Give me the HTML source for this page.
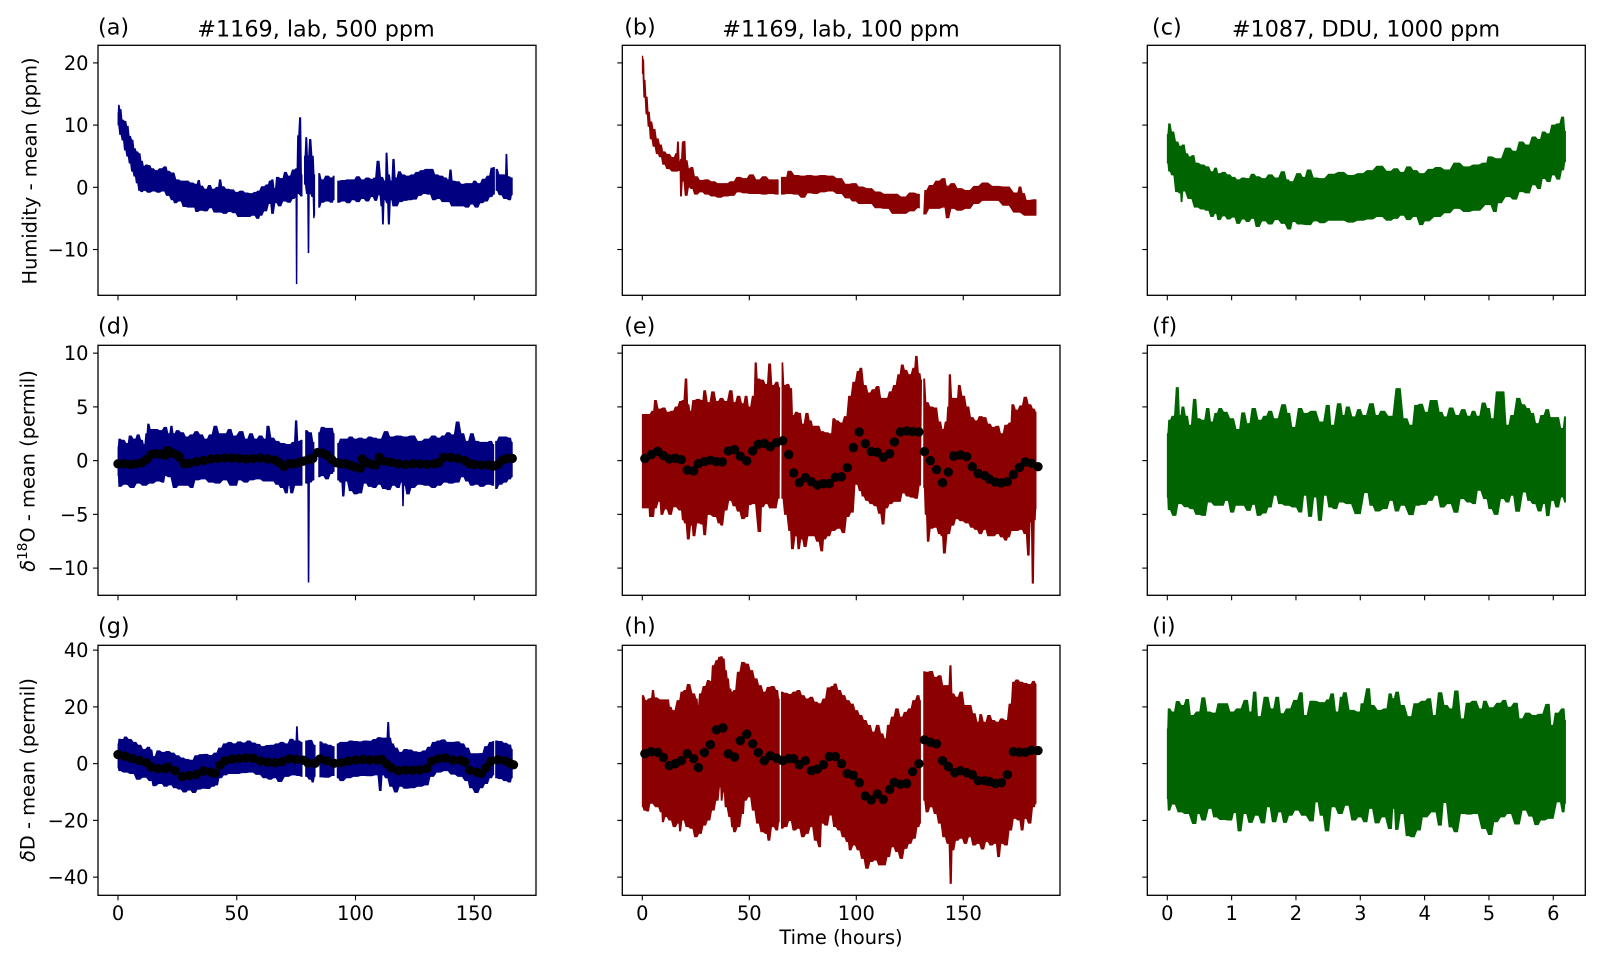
<!DOCTYPE html>
<html>
<head>
<meta charset="utf-8">
<title>Humidity and isotope residual time series</title>
<style>
html,body{margin:0;padding:0;background:#fff;}
svg{display:block;}
text{font-family:"DejaVu Sans","Liberation Sans",sans-serif;fill:#000;}
.lg{font-size:22.3px;}
.md{font-size:19.4px;}
</style>
</head>
<body>
<svg id="fig" xmlns="http://www.w3.org/2000/svg" width="1603" height="963" viewBox="0 0 1603 963">
  <rect x="0" y="0" width="1603" height="963" fill="#ffffff"/>
  <g id="plots"></g>

  <text class="lg" x="98" y="34.6">(a)</text>
  <text class="lg" x="624.2" y="34.6">(b)</text>
  <text class="lg" x="1152" y="34.6">(c)</text>
  <text class="lg" x="98" y="333.6">(d)</text>
  <text class="lg" x="624.2" y="333.6">(e)</text>
  <text class="lg" x="1152" y="333.6">(f)</text>
  <text class="lg" x="98" y="633.6">(g)</text>
  <text class="lg" x="624.2" y="633.6">(h)</text>
  <text class="lg" x="1152" y="633.6">(i)</text>

  <text class="lg" x="316" y="36.7" text-anchor="middle">#1169, lab, 500 ppm</text>
  <text class="lg" x="841" y="36.7" text-anchor="middle">#1169, lab, 100 ppm</text>
  <text class="lg" x="1366" y="36.7" text-anchor="middle">#1087, DDU, 1000 ppm</text>

  <text class="md" transform="translate(36.5,171) rotate(-90)" text-anchor="middle">Humidity - mean (ppm)</text>
  <text class="md" transform="translate(34.5,471) rotate(-90)" text-anchor="middle"><tspan font-style="italic">δ</tspan><tspan font-size="13.6" dy="-7.5">18</tspan><tspan dy="7.5">O - mean (permil)</tspan></text>
  <text class="md" transform="translate(34.5,770) rotate(-90)" text-anchor="middle"><tspan font-style="italic">δ</tspan>D - mean (permil)</text>
  <text class="md" x="841" y="944" text-anchor="middle">Time (hours)</text>
</svg>
<script>
/* ---------- tick labels ---------- */
const xTicksLab500 = [0, 50, 100, 150];
const xTicksLab100 = [0, 50, 100, 150];
const xTicksDDU = [0, 1, 2, 3, 4, 5, 6];
const yTicksHumidity = [20, 10, 0, -10];
const yTicksD18O = [10, 5, 0, -5, -10];
const yTicksDD = [40, 20, 0, -20, -40];

/* ---------- panel (a) humidity, 500 ppm ---------- */
const aUpperTime = [0,.3,1,2,3,4,5,6,7,8,
 9,10,11,12,13,14.5,16,18,20,21,
 23,25,27,29,31,33,34,35,37,38.5,
 40,42,43,44,46,48,50,52,54,56,
 58,59,61,63,64,65,66,67,69,70.5,
 72,74,75.2,75.8,76.7,77.5,null,78.5,79.3,80,
 80.9,82,82.8,null,84.5,86,88,90,91,null,
 92.5,95,97,99,101,103,105,107,108,109.5,
 111,112.5,113,114,115,116,117,118.5,120,122,
 124,126,128,130,132,134,136,138,139,140,
 141,143,145,147,149,150,152,154,156,157.5,
 158.5,null,159.2,161,163,163.5,164.3,166];
const aUpper = [12,13.2,12.5,10.8,10.6,9.8,8.2,7.6,6.2,5.7,
 5.4,4.2,3.4,3.6,3.5,3,2.7,3,3.3,2.6,
 2.3,1.2,1,1,.7,.5,1.1,.2,-.3,.3,
 -.3,0,1.2,.1,-.3,-.4,-.8,-.6,-.9,-1,
 -.8,-.6,.1,.4,1,1.2,-.2,1.6,1.4,2.4,
 1.8,2.8,3,8.3,11.2,2,null,5,8,5,
 7.7,5,2,null,2.2,1.2,1.8,1.5,1.8,null,
 1,1.1,1.2,1.2,1.7,1.2,1.5,1.3,1.5,4.2,
 1.6,1,5.5,2,1,4.5,1.5,2.5,2,1.8,
 2,2.4,2.7,2.9,2.9,2,1.8,1.5,1.2,2.8,
 1,.9,.5,.6,.6,1,.6,1.3,1.8,3.1,
 3.2,null,2.9,2,2,5.3,1.7,1.5];
const aLowerTime = [0,1,2,3,4,5,6,7,8,9,
 10,11,13,15,17,19,21,23,24,26,
 28,30,32,33,35,37,39,41,43,45,
 47,49,51,53,55,57,59,60,62,64,
 65,66.5,68,70,72,74,74.8,75.2,75.6,77.5,
 null,78.5,79.7,80.2,80.7,82,82.5,82.8,null,84.5,
 86,88,90,91,null,92.5,95,97,99,101,
 103,105,107,108.5,110,111,111.5,112.3,113.3,114,
 115,116,117,119,121,123,125,127,129,131,
 133,135,137,139,141,143,145,147,149,151,
 153,155,157,158.5,null,159.2,161,163,165,166];
const aLower = [10,8.5,7.6,6,5,3.9,2.6,1.8,.7,-.5,
 -.7,-.5,-.8,-.6,-.8,-.6,-1.3,-2,-2.5,-2.2,
 -3.1,-3.2,-3.2,-3.9,-3.7,-3.8,-3.3,-4,-4,-4.2,
 -3.9,-4.1,-4.7,-4.7,-4.7,-4.5,-5,-4.5,-3.8,-2.6,
 -4.2,-2.5,-3,-2.2,-2.4,-1.8,-1.6,-15.5,-1,-1.4,
 null,.5,-1,-10.5,-1,-1.5,-4.9,-4.5,null,-3.2,
 -2.4,-2.2,-2.4,-2,null,-2.4,-2.2,-2.5,-2,-2.3,
 -1.8,-2.2,-1.5,-2.1,-1.2,-3,-5.9,-2,-2.5,-5.9,
 -2,-3,-3,-2.3,-2.1,-2,-1.9,-1.3,-1,-1.1,
 -2,-1.8,-2.3,-2.3,-3,-3,-3,-3.2,-2.7,-3.2,
 -2.5,-2.2,-1.5,-1.1,null,-.5,-1.2,-1.8,-2,-1.2];

/* ---------- panel (b) humidity, 100 ppm ---------- */
const bUpperTime = [0,.5,1,2,3,4,5.5,7,8.5,10,
 12,14.5,16,16.6,17.5,18,19,19.7,20.5,22,
 23,25,27.5,30,33,36,39,42,45,48,
 51,54,57,60,63.5,null,65,67,68.5,72,
 75,78,81,84,88,92,96,99,102,106,
 110,114,118,122,126,129.5,null,132,135,138,
 141,142.5,145,148,152,156,160,165,170,175,
 176.5,178,180,184];
const bUpper = [21.1,20.5,17.2,14.5,12.1,10.5,9.3,7.8,6.8,5.7,
 5.3,4.8,5.4,7.3,4.1,4.5,7.3,7.4,4.3,3,
 3.2,1.7,1.1,1.2,.9,.6,.6,.9,1.6,1.4,
 2,1.2,1.7,1.2,1.2,null,1.6,1.6,2.6,1.9,
 1.8,1.9,1.8,1.9,1.8,1.4,.5,.6,.05,-.2,
 -.75,-1.1,-1.1,-1.55,-.9,-1.1,null,-.5,.3,1,
 1.4,.2,.6,-.2,-.5,.15,.7,.15,.05,-.9,
 .05,-1,-2.1,-2];
const bLowerTime = [0,1,2,3,4,5.5,7,8.5,10,12,
 14.5,16,17.5,18,19,20.5,22,23,25,27.5,
 30,33,36,39,42,45,48,51,54,57,
 60,63.5,null,65,68.5,72,75,78,81,84,
 88,92,96,99,102,106,110,114,118,122,
 126,129.5,null,131.5,135,138,141,142.5,145,148,
 152,156,160,165,170,175,180,184];
const bLower = [18.3,14.5,11.8,9.8,7.8,6.6,5.4,4.9,3.7,3,
 2.6,2.6,2.7,-1.4,1,-1.3,0,-.2,-1.1,-.75,
 -1.1,-1.4,-1.6,-1.4,-1.3,-.75,-.9,-1,-1,-1.1,
 -1,-1.1,null,-1.1,-1,-1.1,-1.6,-.9,-1,-.75,
 -.6,-1,-1.7,-2.2,-2.6,-2.6,-3.3,-3.4,-4.2,-4.2,
 -3.8,-3.3,null,-4.3,-3.4,-3.4,-3.2,-4.9,-3.4,-3.7,
 -3.4,-2.6,-2.1,-2.1,-2.9,-4,-4.5,-4.5];

/* ---------- panel (c) humidity, 1000 ppm ---------- */
const cUpperTime = [0,.03,.08,.15,.2,.25,.3,.35,.4,.45,
 .55,.62,.7,.75,.8,.88,.95,1.03,1.1,1.18,
 1.25,1.33,1.4,1.5,1.6,1.7,1.8,1.87,1.92,2.05,
 2.12,2.2,2.3,2.4,2.55,2.7,2.85,3,3.15,3.3,
 3.45,3.55,3.65,3.75,3.85,3.95,4.1,4.2,4.35,4.5,
 4.65,4.8,4.95,5,5.15,5.3,5.4,5.5,5.6,5.7,
 5.78,5.85,5.92,6,6.08,6.15,6.19];
const cUpper = [8.5,10.2,8.9,7.3,6.6,6.8,5.4,4.9,5.1,3.9,
 3.6,3.3,2.5,3.1,2.2,2.4,2,1.6,1.2,1.5,
 1.4,2.1,1.7,1.4,2,1.5,2.5,1.2,.9,2.2,
 1.6,2.8,1.5,1.4,2.1,2.4,1.9,2.2,2.7,3.4,
 2.6,3,2.4,3.3,2.7,2.2,2.9,3.2,2.8,3.9,
 3.3,3.6,3.9,4.9,4.6,6.3,5.8,7.3,6.8,8.1,
 7.7,8.9,8.6,10,10.2,11.3,9];
const cLowerTime = [0,.03,.08,.15,.2,.22,.25,.35,.45,.55,
 .62,.7,.75,.8,.88,.95,1.03,1.1,1.18,1.25,
 1.33,1.4,1.5,1.6,1.7,1.8,1.9,1.96,2.05,2.2,
 2.3,2.4,2.55,2.7,2.85,3,3.15,3.3,3.45,3.55,
 3.65,3.75,3.85,3.95,4.02,4.2,4.35,4.5,4.65,4.8,
 5,5.1,5.15,5.3,5.4,5.5,5.6,5.7,5.78,5.85,
 5.93,6,6.08,6.15,6.19];
const cLower = [3.9,2.6,2,-.7,-.9,-2.3,-.6,-1.8,-3.2,-3.5,
 -3.7,-4.7,-4.2,-5.2,-4.6,-5.1,-4.8,-5.8,-5.1,-5.5,
 -5,-6.3,-5.4,-5.9,-5.2,-5.8,-6.7,-5.5,-5.9,-6,
 -5.4,-5.7,-5.3,-5.3,-5.6,-5.3,-5.1,-4.7,-5.3,-5,
 -4.5,-5.2,-4.7,-6,-5.4,-4.7,-4.1,-3.4,-3.9,-3.7,
 -2.8,-3.9,-2.5,-1.5,-1.9,-.7,-.9,.4,-.2,1.4,
 .9,2,1.3,2.8,4.1];

/* ---------- panel (d) d18O, 500 ppm ---------- */
const dUpperTime = [0,.5,2,4,5,7,8.5,10,11,12,
 12.7,14,16,18,20,21.5,22.5,23.5,25,27,
 29,31,33,35,37,39,41,43,45,47,
 49,52,54,56,58,60,62,63,65,67,
 69,72,74,75,76,77.5,null,79,81,82.5,
 null,84.5,86,88,90,91,null,92.5,94,96,
 98,100,102,104,106,108,110,113,115,118,
 121,124,127,130,133,135,137,139,141,143,
 145,147,149,151,153,155,157,158.2,null,159,
 161,163,165,166];
const dUpper = [1.3,2,1.9,1.6,2.3,2,2.4,1.9,1.5,2.5,
 3.4,2.9,2.9,2.8,3.1,2.5,3.2,2.5,2.8,2.6,
 2.2,2.4,2.7,2.4,2,2.4,3.2,2.5,2.5,2.9,
 2.3,2.7,2,2.5,2,2.3,2,3.2,2.1,1.8,
 1.6,1.5,1.7,3.7,1.8,1.9,null,2.8,2.6,1.7,
 null,2.6,3.1,3,3,2.5,null,1.6,2,2,
 2.2,2,2.1,2,2.2,2.1,2,2.7,2.2,2.3,
 2.2,2.3,1.8,2,2.3,2.1,2.3,2.6,2.4,3.6,
 2.5,1.8,2.5,1.8,1.7,1.7,1.8,1.5,null,1.8,
 2.2,2.2,2.1,1.7];
const dLowerTime = [0,.5,3,6,8.5,11,14,17,19,20,
 21.5,24,26,29,31,33,36,39,42,45,
 48,49.5,51,54,56,59,62,65,67,69,
 71,72,73,75,77.5,null,79,79.8,80.2,80.8,
 82.5,null,84.5,86,88,90,91,null,92.5,94,
 94.8,96,98,100,102,104,106,108,110,112,
 114,116,118,119.5,120,120.5,122,124,127,130,
 133,135,138,140,143,145,147,149,151,153,
 156,158.2,null,159,161,163,165,166];
const dLower = [-1.4,-2.4,-2.2,-2.5,-2.1,-2.3,-2.1,-1.9,-2,-1.4,
 -1.5,-2.5,-2.3,-2.3,-2.5,-1.8,-1.7,-2,-2.1,-1.8,
 -2.3,-2.3,-1.8,-2,-1.8,-1.7,-1.9,-1.9,-2.2,-2.5,
 -3,-2.3,-3,-2.3,-2.3,null,-2.1,-2.1,-11.3,-2,
 -1.8,null,-1.5,-1.4,-1.7,-1.2,-1,null,-1.8,-2,
 -3.3,-1.9,-2.8,-3.1,-3,-2.1,-2.4,-2.5,-2.2,-2.6,
 -2.7,-2.3,-2.5,-2,-4.2,-2.3,-3.1,-2.5,-2.2,-2.3,
 -2.5,-2.3,-2,-2.1,-2,-1.5,-1.9,-2.3,-2.2,-2.4,
 -2.2,-2.3,null,-2.6,-2.2,-2,-1.7,-1.5];
const dMeanTime = [0,2.5,5,7.5,10,12,14,16,18,20,
 21,23,25,26,28,30,33,36,39,42,
 45,48,51,54,57,60,63,66,68,70,
 72,74,76,78,80,82,84,86,88,90,
 92,94,96,98,100,102,102.8,105,107,108.5,
 110,112,115,118,121,124,127,130,133,135,
 137,140,143,146,148,150,153,156,158,160,
 162,164,166];
const dMean = [-.3,-.3,-.35,-.3,-.2,.1,.55,.65,.6,.5,
 .95,.7,.5,.3,-.3,-.25,-.1,0,.15,.2,
 .25,.25,.2,.15,.2,.25,.15,.05,-.2,-.55,
 -.3,-.3,-.2,-.05,.1,.2,.75,.7,.5,.1,
 -.2,-.3,-.3,-.45,-.6,-.7,.15,-.2,-.35,-.4,
 .3,-.05,-.15,-.3,-.35,-.3,-.3,-.35,-.3,-.2,
 .3,.3,.2,0,-.3,-.35,-.4,-.4,-.5,-.35,
 .05,.2,.2];

/* ---------- panel (e) d18O, 100 ppm ---------- */
const eUpperTime = [0,3,5,6,8,10,12,14,16,18,
 19,20.5,21.5,22.5,24,26,28,29,31,33,
 35,37,39,41.5,43,45,47,48.5,50,52,
 53,54,56,58,59.5,61,63,64.2,null,65.3,
 66.5,68,69.5,70.5,72,73.5,75,77,78.5,80,
 82,84,86,88,89.5,91,93,95,97,99,
 101,102,104,106,108,110,112,114,116,118,
 120,121.5,123,125,127,128,129.5,130.5,null,131.5,
 133,135,137,139,140.5,142,143,143.6,145,147,
 148,150,152,154,156,158,160,162,164,166,
 168,170,172,173,175,177,179,181,183,184];
const eUpper = [4.3,4.3,4.6,5.6,4.8,4.9,4.5,4.6,5,5.5,
 5.6,7.6,5.2,4.6,5.6,5.7,5.6,6.5,5.4,6.4,
 5.5,5.8,5.5,6.5,5.4,6,5.3,6,5,6,
 9.1,7.6,7.5,7.1,9,7,7.3,6.8,null,9.1,
 7,7.1,6.7,4.2,4.5,4.4,3.4,4.4,3.7,3.2,
 3.2,2.7,2.6,2.5,3.9,3.7,3.5,4.1,6,7.3,
 8.3,8.6,7,6.3,6.6,6.9,5.8,5.8,6.4,7,
 8,8.9,8.4,8,8.6,9.7,8.1,7.5,null,7.6,
 5.4,5,4.9,3.6,2.9,3.6,5,8,5.8,5.8,
 7,6,5,4,3.7,4.1,4,3.4,3.1,3.2,
 2.5,3.3,3.5,5.2,4.7,5.1,5.9,5.2,4.8,4.5];
const eLowerTime = [0,3,3.5,5,6,8,9,11,13,15,
 18,19,20,21.5,23,24,26,28,29,31,
 34,36,37,39,41,43,45,47,49,50,
 52,55,56,58,60,62,64,null,65.2,67,
 69,70,72,73,74.5,76,78,80,82,84,
 85,87,89,92,94,96,98,100,102,103,
 105,107,109,111,112.5,114,116,118,120,122,
 124,126,128,130,null,131.5,132.5,133.5,135,137,
 139,140,141,143,145,147,149,152,154,156,
 158,160,162,164,166,168,170,171,173,175,
 177,179,180.5,181.5,182.5,183.5,184];
const eLower = [-4.4,-4.4,-5.2,-5.2,-4.4,-3.8,-5,-4.5,-5,-4.3,
 -4.6,-5.5,-5.8,-7.3,-6,-7,-5.8,-5.9,-6.9,-5,
 -5.2,-5.8,-6,-4.6,-3.7,-4.2,-4.7,-5.4,-5.2,-4.1,
 -4,-6.6,-4.3,-4,-4.4,-4.4,-3.5,null,-3.5,-5,
 -6.5,-8.2,-7,-8.2,-7.3,-8,-7,-7,-7.5,-8.4,
 -7.3,-7,-6.5,-6.3,-6.7,-5.2,-4.8,-2.2,-2.8,-3.3,
 -3.7,-4,-4.2,-4.9,-5.9,-4.4,-4,-3.8,-3.8,-3,
 -3.3,-3.4,-3.5,-2.3,null,-2.5,-5,-7.5,-6.3,-6.2,
 -6.8,-7,-8.6,-6.8,-6,-5.4,-5.6,-5.8,-6.2,-6.4,
 -6.8,-6.4,-7,-7,-6.8,-7.1,-7.4,-7.1,-6.5,-6.5,
 -6.4,-6.8,-8.8,-5.7,-11.4,-5.5,-4.5];
const eMeanTime = [1.2,4.2,7.2,9.8,12.6,15.4,18.2,21,24,26.2,
 29,31.8,34.6,37.4,40.2,43.1,45.8,48.8,51.6,54.2,
 57,59.8,62.8,65.6,68.4,70.7,73.4,76.2,79,81.8,
 84.6,87.4,90.2,93.1,95.8,98.6,101.4,104.2,107,109.8,
 112.6,115.6,117.8,120.6,123.5,126.3,129.3,131.8,134.6,137.5,
 140.3,143,145.5,148.6,151.6,154.2,157,160.1,162.1,165,
 167.8,170.6,173.4,176.2,179,181.9,184.9];
const eMean = [.19,.56,.87,.47,.16,.22,.09,-.87,-.96,-.28,
 -.09,.03,-.09,-.12,.9,1.02,.4,-.03,.9,1.52,
 1.61,1.3,1.68,1.86,.56,-1.15,-2.05,-1.58,-1.96,-2.27,
 -2.14,-2.14,-1.55,-1.49,-.65,1.21,2.67,1.58,.84,.78,
 .31,.65,1.74,2.67,2.76,2.7,2.67,.84,0,-.84,
 -2.05,-1.06,.43,.53,.37,-.56,-1.21,-1.4,-1.71,-1.99,
 -2.08,-1.96,-1.3,-.65,-.12,-.25,-.56];

/* ---------- panel (f) d18O, 1000 ppm ---------- */
const fUpperTime = [0,.03,.09,.16,.2,.24,.3,.35,.43,.48,
 .56,.63,.69,.76,.82,.9,1,1.1,1.18,1.26,
 1.34,1.44,1.52,1.6,1.68,1.82,1.88,1.96,2.07,2.14,
 2.27,2.4,2.5,2.56,2.68,2.74,2.8,2.9,2.98,3.06,
 3.18,3.26,3.34,3.47,3.59,3.7,3.79,3.87,3.94,4.03,
 4.11,4.17,4.25,4.32,4.41,4.51,4.6,4.69,4.76,4.83,
 4.92,4.99,5.05,5.14,5.21,5.29,5.36,5.46,5.53,5.61,
 5.67,5.75,5.83,5.91,5.97,6.06,6.14,6.19];
const fUpper = [2.5,3.76,4.13,6.8,4.2,5,4.13,3.3,5.7,3.9,
 3.76,4.85,3.6,4.4,4.85,4.5,3.9,2.9,4.45,3.45,
 4.85,3.76,4.13,4.6,3.9,5.2,4.4,3.1,4.85,4.4,
 4.6,3.6,5.15,3.3,5.3,4.2,5,4.07,4.75,4.2,
 5.3,4.2,4.6,4.13,6.7,3.9,3.3,5.15,5.25,4.5,
 5.6,5.6,4.5,4.07,4.9,4.2,4.75,4.13,4.6,4.13,
 5.37,4.85,3.9,6.4,6.4,3.3,4.2,5.8,5.2,4.85,
 4.4,3.45,4.2,4.75,4,4,3,4.07];
const fLowerTime = [0,.02,.11,.19,.3,.38,.47,.57,.65,.76,
 .85,.92,1.01,1.08,1.16,1.27,1.34,1.42,1.51,1.59,
 1.68,1.75,1.86,1.98,2.07,2.14,2.22,2.3,2.37,2.46,
 2.53,2.61,2.69,2.82,2.96,3.1,3.17,3.26,3.39,3.48,
 3.57,3.65,3.8,3.88,3.99,4.09,4.18,4.27,4.38,4.49,
 4.58,4.69,4.77,4.84,4.95,5.02,5.11,5.21,5.29,5.36,
 5.44,5.56,5.62,5.7,5.79,5.86,5.91,5.99,6.06,6.14,6.19];
const fLower = [-3.4,-4.56,-5.1,-4,-4.3,-4.47,-5,-5.1,-3.85,-4.16,
 -4.16,-3.7,-4.8,-4.16,-4.16,-4.63,-4.07,-5.1,-4.88,-4.32,
 -3.23,-4,-4.16,-4.32,-4.78,-3.23,-5.19,-3.39,-5.56,-3.23,
 -4.32,-4.47,-3.85,-4,-4.94,-2.98,-4.16,-4.69,-4.47,-3.7,
 -4.69,-4.16,-5.03,-4.16,-4.07,-3.7,-3.23,-4.32,-4,-4.81,
 -3.54,-3.85,-4,-2.76,-3.54,-4.47,-5,-3.54,-3.85,-3.23,
 -4.72,-2.92,-3.7,-4,-4.69,-4,-5.12,-3.7,-4.32,-3.39,-3.85];

/* ---------- panel (g) dD, 500 ppm ---------- */
const gUpperTime = [0,.5,2,3,5,7,9,11,13,14,
 15,17,19,21,23,25,27,29,31,33,
 35,37,39,41,43,45,47,49,51,53,
 55,57,59,61,63,65,67,69,71,73,
 74.8,75.3,76,77.5,null,79,81,83,null,85,
 87,89,91,null,92.3,94,96,98,100,102,
 104,106,108,110,111.5,113,113.8,114.5,115.5,117,
 119,121,123,125,127,129,131,133,135,137,
 139,141,143,145,147,149,151,153,155,157,
 158.2,null,159,161,163,165,166];
const gUpper = [7,8.6,8.5,9.4,8.5,7.5,6.5,5,5.8,4.8,
 2.5,4.5,4,4.3,3.7,2.8,2,1.5,1.2,2.8,
 3.2,3.3,2.9,3.7,5.5,7,7.5,7,7.7,7.3,
 8,7.3,6.8,6,6.4,6.5,7,7.5,7,8.6,
 8,13,8,7.5,null,8,8.2,6.5,null,7.7,
 7,6.5,6,null,7,7.5,7.5,8,7.8,7.7,
 8,7.9,8.5,9.2,9,9,14.5,9,7,5.5,
 4,5,4.8,4.2,4,4.5,5.8,7.5,8,8.4,
 7.5,7.5,7.7,7,5.5,3.5,3.5,3.6,6,7.5,
 7.8,null,8,7.8,7.2,6.6,5];
const gLowerTime = [0,.5,3,6,8.5,11,14,15,18,20,
 22,24,26,28,30,32,34,36,38,40,
 41.5,43,45,47,50,53,56,59,62,64,
 66,68,71,74,76,77.5,null,79,81,82,
 83,null,85,88,91,null,92.3,94,97,100,
 103,106,109,110.5,111.5,113,115,117,119,121,
 124,127,130,132,135,138,141,144,147,148.5,
 151,153,155,157,158.2,null,159,161,163,165,166];
const gLower = [-1.5,-2.5,-3,-3.5,-5.5,-4.8,-6,-7.8,-7,-8,
 -7.5,-8.5,-9,-10,-9.3,-10.2,-9,-8.7,-8.8,-8,
 -7.5,-5,-4,-3.5,-3.5,-3.2,-3,-3.8,-5,-5.5,
 -5,-6.3,-4.5,-4,-4.2,-4.5,null,-4.5,-5.5,-6.5,
 -4.5,null,-4.7,-4.8,-4.2,null,-5,-6,-5,-4.5,
 -4.2,-4.3,-4,-9.5,-4,-5,-8,-10,-8,-8.7,
 -8.5,-8,-7.5,-4.5,-3,-2.5,-3.7,-4.5,-6,-8.5,
 -10.2,-8.5,-7,-5,-4,null,-5,-5.3,-6,-6.5,-5];
const gMeanTime = [0,3,6,9,12,14,17,20,21,24,
 27,30,33,36,39,41,43,45,48,51,
 54,57,60,63,66,69,72,75,78,80,
 83,85,88,91,94,97,100,103,106,109,
 111,113,115,118,121,124,127,130,132,135,
 138,141,144,146,148,151,153,155,157,160,
 163,165,166.5];
const gMean = [3.2,2.6,1.8,1.1,.3,-1.2,-1.8,-1.8,-1.2,-2.5,
 -4.5,-4.2,-3.8,-2.6,-3,-3.4,-.5,1,1.6,1.8,
 2,1.9,.9,.5,.3,.7,1.7,1.5,1.2,.2,
 .1,1.6,1,.1,.3,.9,1.2,1.5,1.3,1.3,
 1.5,0,-1.5,-2.5,-2.3,-2.3,-2.2,-1.7,.8,1.8,
 2,1.2,1.2,.6,-2.3,-3,-3.4,-1.5,.8,1.4,
 1,.1,-.4];

/* ---------- panel (h) dD, 100 ppm ---------- */
const hUpperTime = [0,2,3,4,5,6,9,12,13,14.5,
 17,18.5,20,21.5,24,25.5,26,27,29,31,
 32,33,35,36,37,38,39,40,41,42,
 43,45,47,49,51,53,55,57,59,61,
 63,64,null,65,67,69,71,73,75,77,
 79,81,83,85,87,89,90,92,94,96,
 98,100,102,104,106,108,110,112,113.5,115,
 117,119,121,123,125,127,129,130,null,131.5,
 133,135,137,139,141,143,144,145,147,149,
 151,153,155,157,158,160,162,164,166,168,
 170,172,173.5,175,177,179,181,183,184];
const hUpper = [24,22.2,22.8,23,25.8,23.2,22.5,22.5,19.9,18.7,
 22.2,25.2,25.8,27.9,24.6,22.8,20.5,24.6,27.2,29.3,
 28.9,34.5,36.3,37.5,37.7,36.9,32.8,29.9,26.3,25.2,
 25.8,32.2,35.7,35.1,32.8,29.9,27.5,25.2,26.9,27.2,
 25.8,22.8,null,25.2,24.8,24.4,25.2,25.8,24,22.8,
 23.4,21.7,21.1,22.8,26.7,27.2,28.1,25.8,24,22.2,
 21,18.7,17,15.2,13.5,11.1,13.5,10.5,8.8,13.5,
 16.4,19.3,16.4,18.1,19.3,22.2,24,22.2,null,32.4,
 32.2,32.5,30.4,31,27.5,27.5,34.5,24.6,23.4,25.2,
 20.5,20.5,17.6,14.6,17.3,14.6,17,15.2,14.6,15.8,
 15.2,21,28.7,29.5,28.7,28.3,27.9,29,28.1];
const hLowerTime = [0,1,2.5,4,7,9,9.5,11,13,15,
 17,17.5,19,21,23,25,27,29,31,33,
 35,36.5,37,38,39,41,42,43,45,47,
 48,50,52,54,56,58,59,61,63,64,
 null,65,67,69,71,73,75,77,79,81,
 83,84,86,88,90,92,94,96,97,99,
 101,103,105,107,109,111,113,115,117,119,
 121,123,125,127,129,130,null,131.5,133,135,
 137,139,141,143,144.2,145,147,149,151,153,
 155,157,159,161,163,165,166.5,168,170,172,
 174,176,177.5,179,181,183,184];
const hLower = [-15.2,-16.4,-16.7,-14,-15.2,-17,-20.5,-18.7,-19.9,-22.2,
 -21,-23.7,-19.9,-22.2,-22.8,-25.8,-24.6,-21.7,-19.9,-16.4,
 -12.9,-8.2,-12.9,-10,-15.2,-18.7,-22.2,-24,-22.2,-17.6,
 -12.9,-11.7,-16.4,-21,-24,-24.6,-27,-22.2,-23.4,-20.5,
 null,-22.8,-22.2,-20.1,-23.4,-22.8,-25.8,-24.6,-22.2,-27,
 -29.3,-21,-21.7,-18.1,-22.2,-23.4,-25.8,-27.5,-30.4,-28.7,
 -30.4,-33.4,-36.9,-34.5,-34,-35.7,-35.7,-32.8,-29.3,-31,
 -33.4,-29.9,-28.1,-26.3,-22.2,-21,null,-12.9,-17,-15.2,
 -17.6,-21,-25.8,-28.1,-42.2,-30.4,-27,-26.3,-28.1,-25.8,
 -28.7,-28.1,-30.1,-27.5,-28.7,-28.1,-32.8,-28.1,-28.7,-23.4,
 -19.3,-19.9,-23.4,-19.3,-21,-15.2,-14];
const hMeanTime = [1.2,4.2,7.2,9.8,12.6,15.4,18.2,21,24,26.2,
 29,31.8,34.6,37.7,40.2,43.1,45.8,48.8,51.6,54.2,
 57,59.8,62.8,65.6,68.4,70.7,73.4,76.2,79,81.8,
 84.6,87.4,90.2,93.1,95.8,98.6,101.4,104.2,107,109.8,
 112.6,115.6,117.8,120.6,123.5,126.3,129.3,131.8,134.6,137.5,
 140.3,143,146,148.6,151.6,154.2,157,160.1,162.1,165,
 167.8,170.6,173.4,176.2,179,181.9,184.9];
const hMean = [3.5,4.2,4,2.2,-.7,0,1.05,3.5,1.76,-1.4,
 3.9,6.7,11.9,12.6,3.5,2.3,8.1,10.4,7,3.9,
 1.05,2.8,1.9,1.05,1.76,1.76,-.35,1.05,-2.5,-1.9,
 -.35,2.5,2.5,0,-3.5,-4.1,-6.7,-11.4,-12.8,-10.7,
 -12.6,-9.1,-6.6,-7.3,-7,-2.8,0,8.4,7.5,7,
 1.05,-1.05,-3.2,-2.5,-3.2,-3.9,-6,-6,-6.3,-7,
 -6.7,-3.9,4.2,4,4,4.7,4.6];

/* ---------- panel (i) dD, 1000 ppm ---------- */
const iUpperTime = [0,.02,.09,.16,.24,.31,.38,.48,.56,.64,
 .73,.81,.91,1,1.11,1.23,1.29,1.36,1.42,1.54,
 1.63,1.71,1.78,1.88,2,2.08,2.14,2.25,2.43,2.5,
 2.56,2.64,2.71,2.75,2.86,2.99,3.02,3.13,3.18,3.3,
 3.39,3.47,3.51,3.57,3.65,3.77,3.86,3.99,4.07,4.15,
 4.24,4.33,4.41,4.49,4.59,4.67,4.77,4.88,4.93,5.03,
 5.16,5.24,5.31,5.42,5.49,5.6,5.7,5.8,5.92,5.98,
 6.05,6.16,6.19];
const iUpper = [12.3,19.3,18.2,21.9,20.5,22.6,17,18.2,23.2,18.2,
 17.8,21.1,21.1,18.2,19.3,22.3,18.2,25.2,16.6,23.4,
 19.3,23.4,17.6,19.3,22.3,25,17,22,21.5,22.5,
 24.6,18.2,23.4,25,18.8,18.2,21.1,26.4,20.5,18.8,
 19.3,24.6,22.9,25.2,20.5,16.6,21.1,22,22.9,17,
 25,20.5,19.3,25.6,15.8,21.3,22,19.3,22,19.7,
 21.3,22.3,19.9,21.3,15.8,17.8,17,17.4,20.9,13.5,
 17.8,19.3,15.2];
const iLowerTime = [0,.02,.09,.2,.3,.43,.48,.56,.67,.74,
 .85,.98,1.05,1.12,1.21,1.29,1.39,1.49,1.57,1.66,
 1.75,1.83,1.91,2.01,2.12,2.25,2.32,2.4,2.48,2.58,
 2.69,2.79,2.9,2.99,3.08,3.16,3.26,3.36,3.47,3.52,
 3.56,3.65,3.74,3.81,3.91,3.99,4.15,4.24,4.31,4.41,
 4.48,4.59,4.69,4.79,4.93,5.02,5.1,5.21,5.31,5.44,
 5.55,5.65,5.74,5.83,5.96,6.09,6.16,6.19];
const iLower = [-12.3,-16.4,-14.3,-17,-17.6,-21.1,-17.6,-19.9,-15.8,-18.8,
 -19.7,-19.9,-17.3,-23.7,-17.6,-20.7,-18.2,-20.9,-15.2,-20.5,
 -17,-20.7,-18.2,-16.4,-18.2,-20.2,-13.5,-18.2,-23.7,-15.2,
 -17.6,-14.7,-19.9,-18.8,-20.5,-15.8,-20.9,-18.8,-22.9,-15.8,
 -23.2,-17.6,-25.4,-25.8,-23.4,-18.8,-17,-21.7,-13.7,-22.3,
 -24,-17.6,-17.8,-17.6,-22.9,-25,-20.5,-18.8,-17.6,-21.3,
 -16.4,-18.5,-21.5,-19.9,-19.3,-13.5,-17,-14];

/* ---------- layout and styling ---------- */
const SVG_NS = 'http://www.w3.org/2000/svg';
const columnLayouts = [
  { left: 98, right: 536, xMin: -8.42, xMax: 176, ticks: xTicksLab500, color: '#000080' },
  { left: 622.3, right: 1060, xMin: -9.35, xMax: 195.2, ticks: xTicksLab100, color: '#8b0000' },
  { left: 1147.3, right: 1585.3, xMin: -0.311, xMax: 6.498, ticks: xTicksDDU, color: '#006400' }
];
const rowLayouts = [
  { top: 45.3, bottom: 295.3, yMax: 22.83, yMin: -17.36, ticks: yTicksHumidity },
  { top: 345.3, bottom: 595.3, yMax: 10.73, yMin: -12.53, ticks: yTicksD18O },
  { top: 645.3, bottom: 895.3, yMax: 41.7, yMin: -46.4, ticks: yTicksDD }
];
const panels = [
  { id: 'a', col: 0, row: 0, ut: aUpperTime, u: aUpper, lt: aLowerTime, l: aLower },
  { id: 'b', col: 1, row: 0, ut: bUpperTime, u: bUpper, lt: bLowerTime, l: bLower },
  { id: 'c', col: 2, row: 0, ut: cUpperTime, u: cUpper, lt: cLowerTime, l: cLower },
  { id: 'd', col: 0, row: 1, ut: dUpperTime, u: dUpper, lt: dLowerTime, l: dLower, mt: dMeanTime, m: dMean },
  { id: 'e', col: 1, row: 1, ut: eUpperTime, u: eUpper, lt: eLowerTime, l: eLower, mt: eMeanTime, m: eMean },
  { id: 'f', col: 2, row: 1, ut: fUpperTime, u: fUpper, lt: fLowerTime, l: fLower },
  { id: 'g', col: 0, row: 2, ut: gUpperTime, u: gUpper, lt: gLowerTime, l: gLower, mt: gMeanTime, m: gMean },
  { id: 'h', col: 1, row: 2, ut: hUpperTime, u: hUpper, lt: hLowerTime, l: hLower, mt: hMeanTime, m: hMean },
  { id: 'i', col: 2, row: 2, ut: iUpperTime, u: iUpper, lt: iLowerTime, l: iLower }
];

function makeEl(tag, attrs, parent) {
  const el = document.createElementNS(SVG_NS, tag);
  for (const k in attrs) el.setAttribute(k, attrs[k]);
  parent.appendChild(el);
  return el;
}
function xAxis(col) {
  return t => col.left + (t - col.xMin) / (col.xMax - col.xMin) * (col.right - col.left);
}
function yAxis(row) {
  return v => row.top + (row.yMax - v) / (row.yMax - row.yMin) * (row.bottom - row.top);
}
function fmt(v) {
  return v < 0 ? '\u2212' + Math.abs(v) : String(v);
}
function segments(times, values) {
  const out = [];
  let cur = [];
  const n = Math.min(times.length, values.length);
  for (let i = 0; i < n; i++) {
    if (times[i] === null || values[i] === null) {
      if (cur.length) out.push(cur);
      cur = [];
    } else {
      cur.push([times[i], values[i]]);
    }
  }
  if (cur.length) out.push(cur);
  return out;
}
/* Each sample is a short flat top; neighbouring samples join with steep edges. */
function jaggedEdge(seg, sx, sy) {
  const pts = [];
  const flat = 0.3;
  for (let i = 0; i < seg.length; i++) {
    const x = sx(seg[i][0]);
    const left = i === 0 ? x : x + (sx(seg[i - 1][0]) - x) * flat;
    const right = i === seg.length - 1 ? x : x + (sx(seg[i + 1][0]) - x) * flat;
    const y = sy(seg[i][1]);
    pts.push(left.toFixed(2) + ',' + y.toFixed(2));
    pts.push(right.toFixed(2) + ',' + y.toFixed(2));
  }
  return pts;
}

const plots = document.getElementById('plots');
panels.forEach(p => {
  const col = columnLayouts[p.col];
  const row = rowLayouts[p.row];
  const sx = xAxis(col);
  const sy = yAxis(row);

  const g = makeEl('g', {}, plots);
  
  

  /* signal band */
  const upperSegs = segments(p.ut, p.u);
  const lowerSegs = segments(p.lt, p.l);
  const nSeg = Math.min(upperSegs.length, lowerSegs.length);
  for (let s = 0; s < nSeg; s++) {
    const pts = jaggedEdge(upperSegs[s], sx, sy).concat(jaggedEdge(lowerSegs[s], sx, sy).reverse());
    const band = makeEl('polygon', {
      points: pts.join(' '),
      fill: col.color,
      stroke: col.color,
      'stroke-width': 0.9,
      'stroke-linejoin': 'round'
    }, g);
    
    
  }

  /* mean markers */
  if (p.m) {
    const n = Math.min(p.mt.length, p.m.length);
    for (let i = 0; i < n; i++) {
      const dot = makeEl('circle', { cx: sx(p.mt[i]).toFixed(2), cy: sy(p.m[i]).toFixed(2), r: 4.7, fill: '#000' }, g);
      
      
    }
  }

  /* frame */
  const frame = makeEl('rect', {
    x: col.left, y: row.top,
    width: col.right - col.left, height: row.bottom - row.top,
    fill: 'none', stroke: '#000', 'stroke-width': 1.3
  }, g);
  
  

  /* x ticks */
  col.ticks.forEach(t => {
    const x = sx(t);
    const tick = makeEl('line', { x1: x, x2: x, y1: row.bottom, y2: row.bottom + 5, stroke: '#000', 'stroke-width': 1.1 }, g);
    
    
    if (p.row === 2) {
      const label = makeEl('text', { x: x, y: 919.8, 'text-anchor': 'middle', class: 'md' }, g);
      label.textContent = fmt(t);
      
      
    }
  });

  /* y ticks */
  row.ticks.forEach(v => {
    const y = sy(v);
    const tick = makeEl('line', { x1: col.left - 5, x2: col.left, y1: y, y2: y, stroke: '#000', 'stroke-width': 1.1 }, g);
    
    
    if (p.col === 0) {
      const label = makeEl('text', { x: col.left - 9.5, y: y + 7, 'text-anchor': 'end', class: 'md' }, g);
      label.textContent = fmt(v);
      
      
    }
  });
});
</script>
</body>
</html>
